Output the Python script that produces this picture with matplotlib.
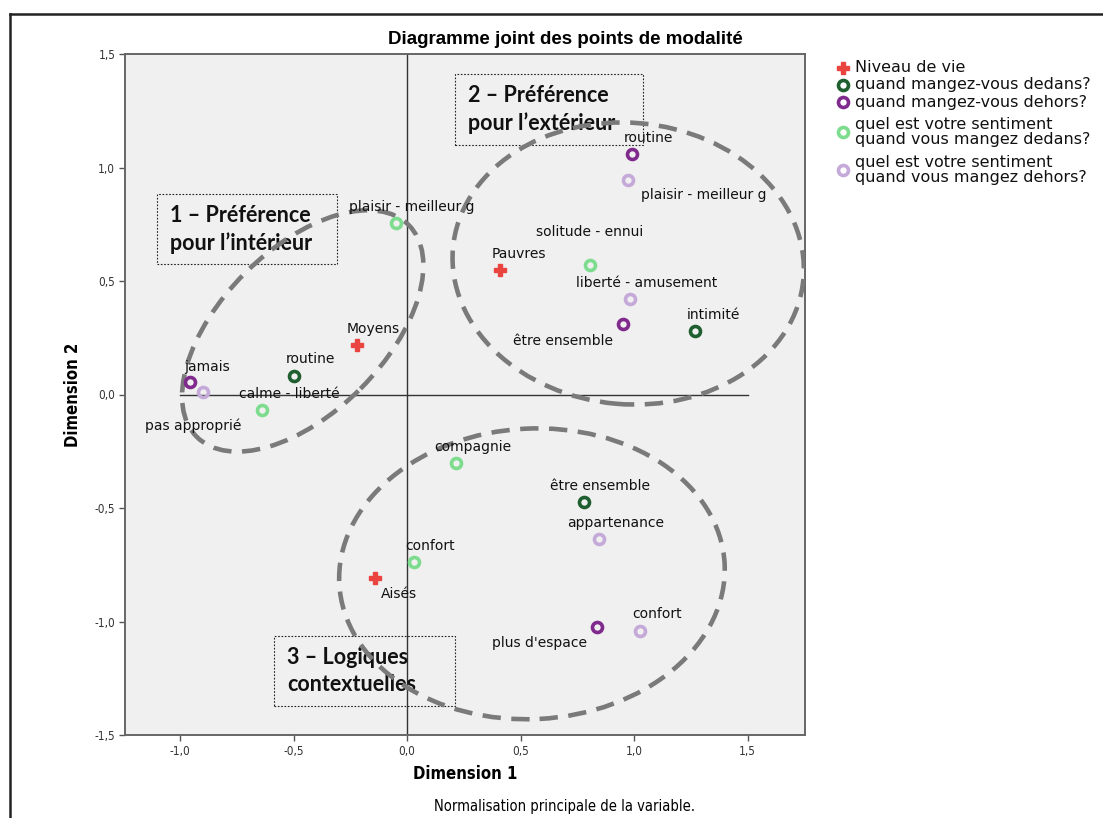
import numpy as np
import matplotlib
matplotlib.use("Agg")
import matplotlib.pyplot as plt
from matplotlib.patches import Ellipse, Rectangle
from matplotlib.lines import Line2D
from matplotlib.ticker import FuncFormatter

## data (Dimension 1, Dimension 2)
niveau_labels = ["Pauvres", "Moyens", "Aisés"]
niveau_x = [0.41, -0.22, -0.14]
niveau_y = [0.55, 0.22, -0.81]

dedans_labels = ["routine", "intimité", "être ensemble"]
dedans_x = [-0.50, 1.27, 0.78]
dedans_y = [0.08, 0.28, -0.475]

dehors_labels = ["jamais", "routine", "être ensemble", "plus d'espace"]
dehors_x = [-0.955, 0.99, 0.95, 0.835]
dehors_y = [0.057, 1.06, 0.31, -1.025]

sent_dedans_labels = ["plaisir - meilleur g", "solitude - ennui", "calme - liberté",
                      "compagnie", "confort"]
sent_dedans_x = [-0.05, 0.805, -0.64, 0.215, 0.03]
sent_dedans_y = [0.755, 0.57, -0.07, -0.30, -0.74]

sent_dehors_labels = ["pas approprié", "plaisir - meilleur g", "liberté - amusement",
                      "appartenance", "confort"]
sent_dehors_x = [-0.90, 0.975, 0.98, 0.845, 1.025]
sent_dehors_y = [0.01, 0.947, 0.42, -0.635, -1.04]

legend_labels = ["Niveau de vie", "quand mangez-vous dedans?", "quand mangez-vous dehors?",
                 "quel est votre sentiment\nquand vous mangez dedans?",
                 "quel est votre sentiment\nquand vous mangez dehors?"]

## label offsets (pixels) from each point
niveau_off = [(19, 16), (16, 16), (24, -16)]
dedans_off = [(17, 17), (18, 16), (16, 16)]
dehors_off = [(17, 15), (17, 16), (-60, -17), (-57, -16)]
sent_dedans_off = [(16, 16), (0, 33), (27, 16), (17, 16), (16, 16)]
sent_dehors_off = [(-10, -34), (75, -15), (17, 16), (17, 16), (17, 17)]

c_red = "#ea4440"
c_dgreen = "#1e5e2f"
c_purple = "#7f2a8c"
c_lgreen = "#7ddc8e"
c_lpurple = "#c4a9d9"

narrow = ["Liberation Sans Narrow", "DejaVu Sans"]
W, H = 1103, 818

fig = plt.figure(figsize=(11.03, 8.18), dpi=100)
ax = fig.add_axes([125/W, 1-735/H, 680/W, 681/H])
ax.set_facecolor("#f0f0f0")
ax.set_xlim(-1.243, 1.753)
ax.set_ylim(-1.5, 1.5)

## reference lines
ax.plot([0, 0], [-1.5, 1.5], color="#333333", lw=1, zorder=1)
ax.plot([-1.0, 1.5], [0, 0], color="#333333", lw=1, zorder=1)

## annotation boxes
boxes = [((-1.101, 0.573), 0.793, 0.312, "1 – Préférence\npour l’intérieur"),
         ((0.211, 1.097), 0.829, 0.313, "2 – Préférence\npour l’extérieur"),
         ((-0.586, -1.374), 0.797, 0.308, "3 – Logiques\ncontextuelles")]
for (x0, y0), w, h, txt in boxes:
    ax.add_patch(Rectangle((x0, y0), w, h, fill=False, ec="#222222", lw=0.8,
                           ls=(0, (1.5, 1.5)), zorder=2))
    ax.text(x0 + 0.057, y0 + h/2, txt, ha="left", va="center", fontsize=15.5,
            fontweight="bold", family="Lato", color="#111111",
            linespacing=1.35, zorder=2)

## dashed groupings
for (cx, cy), w, h, ang in [((-0.46, 0.28), 1.32, 0.72, 45),
                            ((0.974, 0.577), 1.55, 1.24, -5),
                            ((0.55, -0.79), 1.70, 1.28, 3)]:
    ax.add_patch(Ellipse((cx, cy), w, h, angle=ang, fill=False, ec="#7a7a7a",
                         lw=3.3, ls=(0, (4, 2.3)), zorder=3))

ring = dict(ls="none", marker="o", ms=7.2, mew=2.6, mfc="none", zorder=5)
groups = [(dedans_x, dedans_y, dedans_labels, dedans_off, c_dgreen),
          (dehors_x, dehors_y, dehors_labels, dehors_off, c_purple),
          (sent_dedans_x, sent_dedans_y, sent_dedans_labels, sent_dedans_off, c_lgreen),
          (sent_dehors_x, sent_dehors_y, sent_dehors_labels, sent_dehors_off, c_lpurple)]

ax.plot(niveau_x, niveau_y, ls="none", marker="P", ms=8, color=c_red, mec=c_red, zorder=5)
for x, y, lab, off in zip(niveau_x, niveau_y, niveau_labels, niveau_off):
    ax.annotate(lab, (x, y), xytext=off, textcoords="offset pixels", ha="center",
                va="center", fontsize=10, color="#111111", zorder=6)

for xs, ys, labs, offs, col in groups:
    ax.plot(xs, ys, mec=col, **ring)
    for x, y, lab, off in zip(xs, ys, labs, offs):
        ax.annotate(lab, (x, y), xytext=off, textcoords="offset pixels", ha="center",
                    va="center", fontsize=10, color="#111111", zorder=6)

## axes styling
for s in ax.spines.values():
    s.set_color("#666666")
    s.set_linewidth(1.4)
ax.set_xticks([-1.0, -0.5, 0.0, 0.5, 1.0, 1.5])
ax.set_yticks([-1.5, -1.0, -0.5, 0.0, 0.5, 1.0, 1.5])
fmt = FuncFormatter(lambda v, p: ("%.1f" % v).replace(".", ","))
ax.xaxis.set_major_formatter(fmt)
ax.yaxis.set_major_formatter(fmt)
ax.tick_params(direction="out", length=4, width=1, color="#555555",
               labelsize=8.5, labelcolor="#333333", pad=3)
for t in ax.get_xticklabels() + ax.get_yticklabels():
    t.set_family(narrow)
    t.set_stretch("condensed")

ax.set_xlabel("Dimension 1", fontsize=12, fontweight="bold", family=narrow,
              fontstretch="condensed", labelpad=5)
ax.set_ylabel("Dimension 2", fontsize=12, fontweight="bold", family=narrow,
              fontstretch="condensed", labelpad=9)

fig.text(565/W, 1-40/H, "Diagramme joint des points de modalité", ha="center",
         va="center", fontsize=13.5, fontweight="bold", family="Liberation Sans")
fig.text(565/W, 1-806/H, "Normalisation principale de la variable.", ha="center",
         va="center", fontsize=10.5, family=narrow, fontstretch="condensed")

## legend, drawn row by row
legend_handles = [dict(ls="none", marker="P", ms=8, color=c_red),
                  dict(mec=c_dgreen, **ring), dict(mec=c_purple, **ring),
                  dict(mec=c_lgreen, **ring), dict(mec=c_lpurple, **ring)]
row_y = [68, 85, 102, 132, 170]
for lab, st, ry in zip(legend_labels, legend_handles, row_y):
    fig.add_artist(Line2D([843/W], [1-ry/H], **st))
    fig.text(855/W, 1-ry/H, lab, ha="left", va="center", fontsize=11.5,
             color="#111111", linespacing=0.95)

## outer viewer frame
fig.add_artist(Line2D([10/W, 1], [1-14/H, 1-14/H], color="#222222", lw=1.8))
fig.add_artist(Line2D([10/W, 10/W], [0, 1-14/H], color="#222222", lw=1.8))

fig.savefig("out.png", dpi=100)
